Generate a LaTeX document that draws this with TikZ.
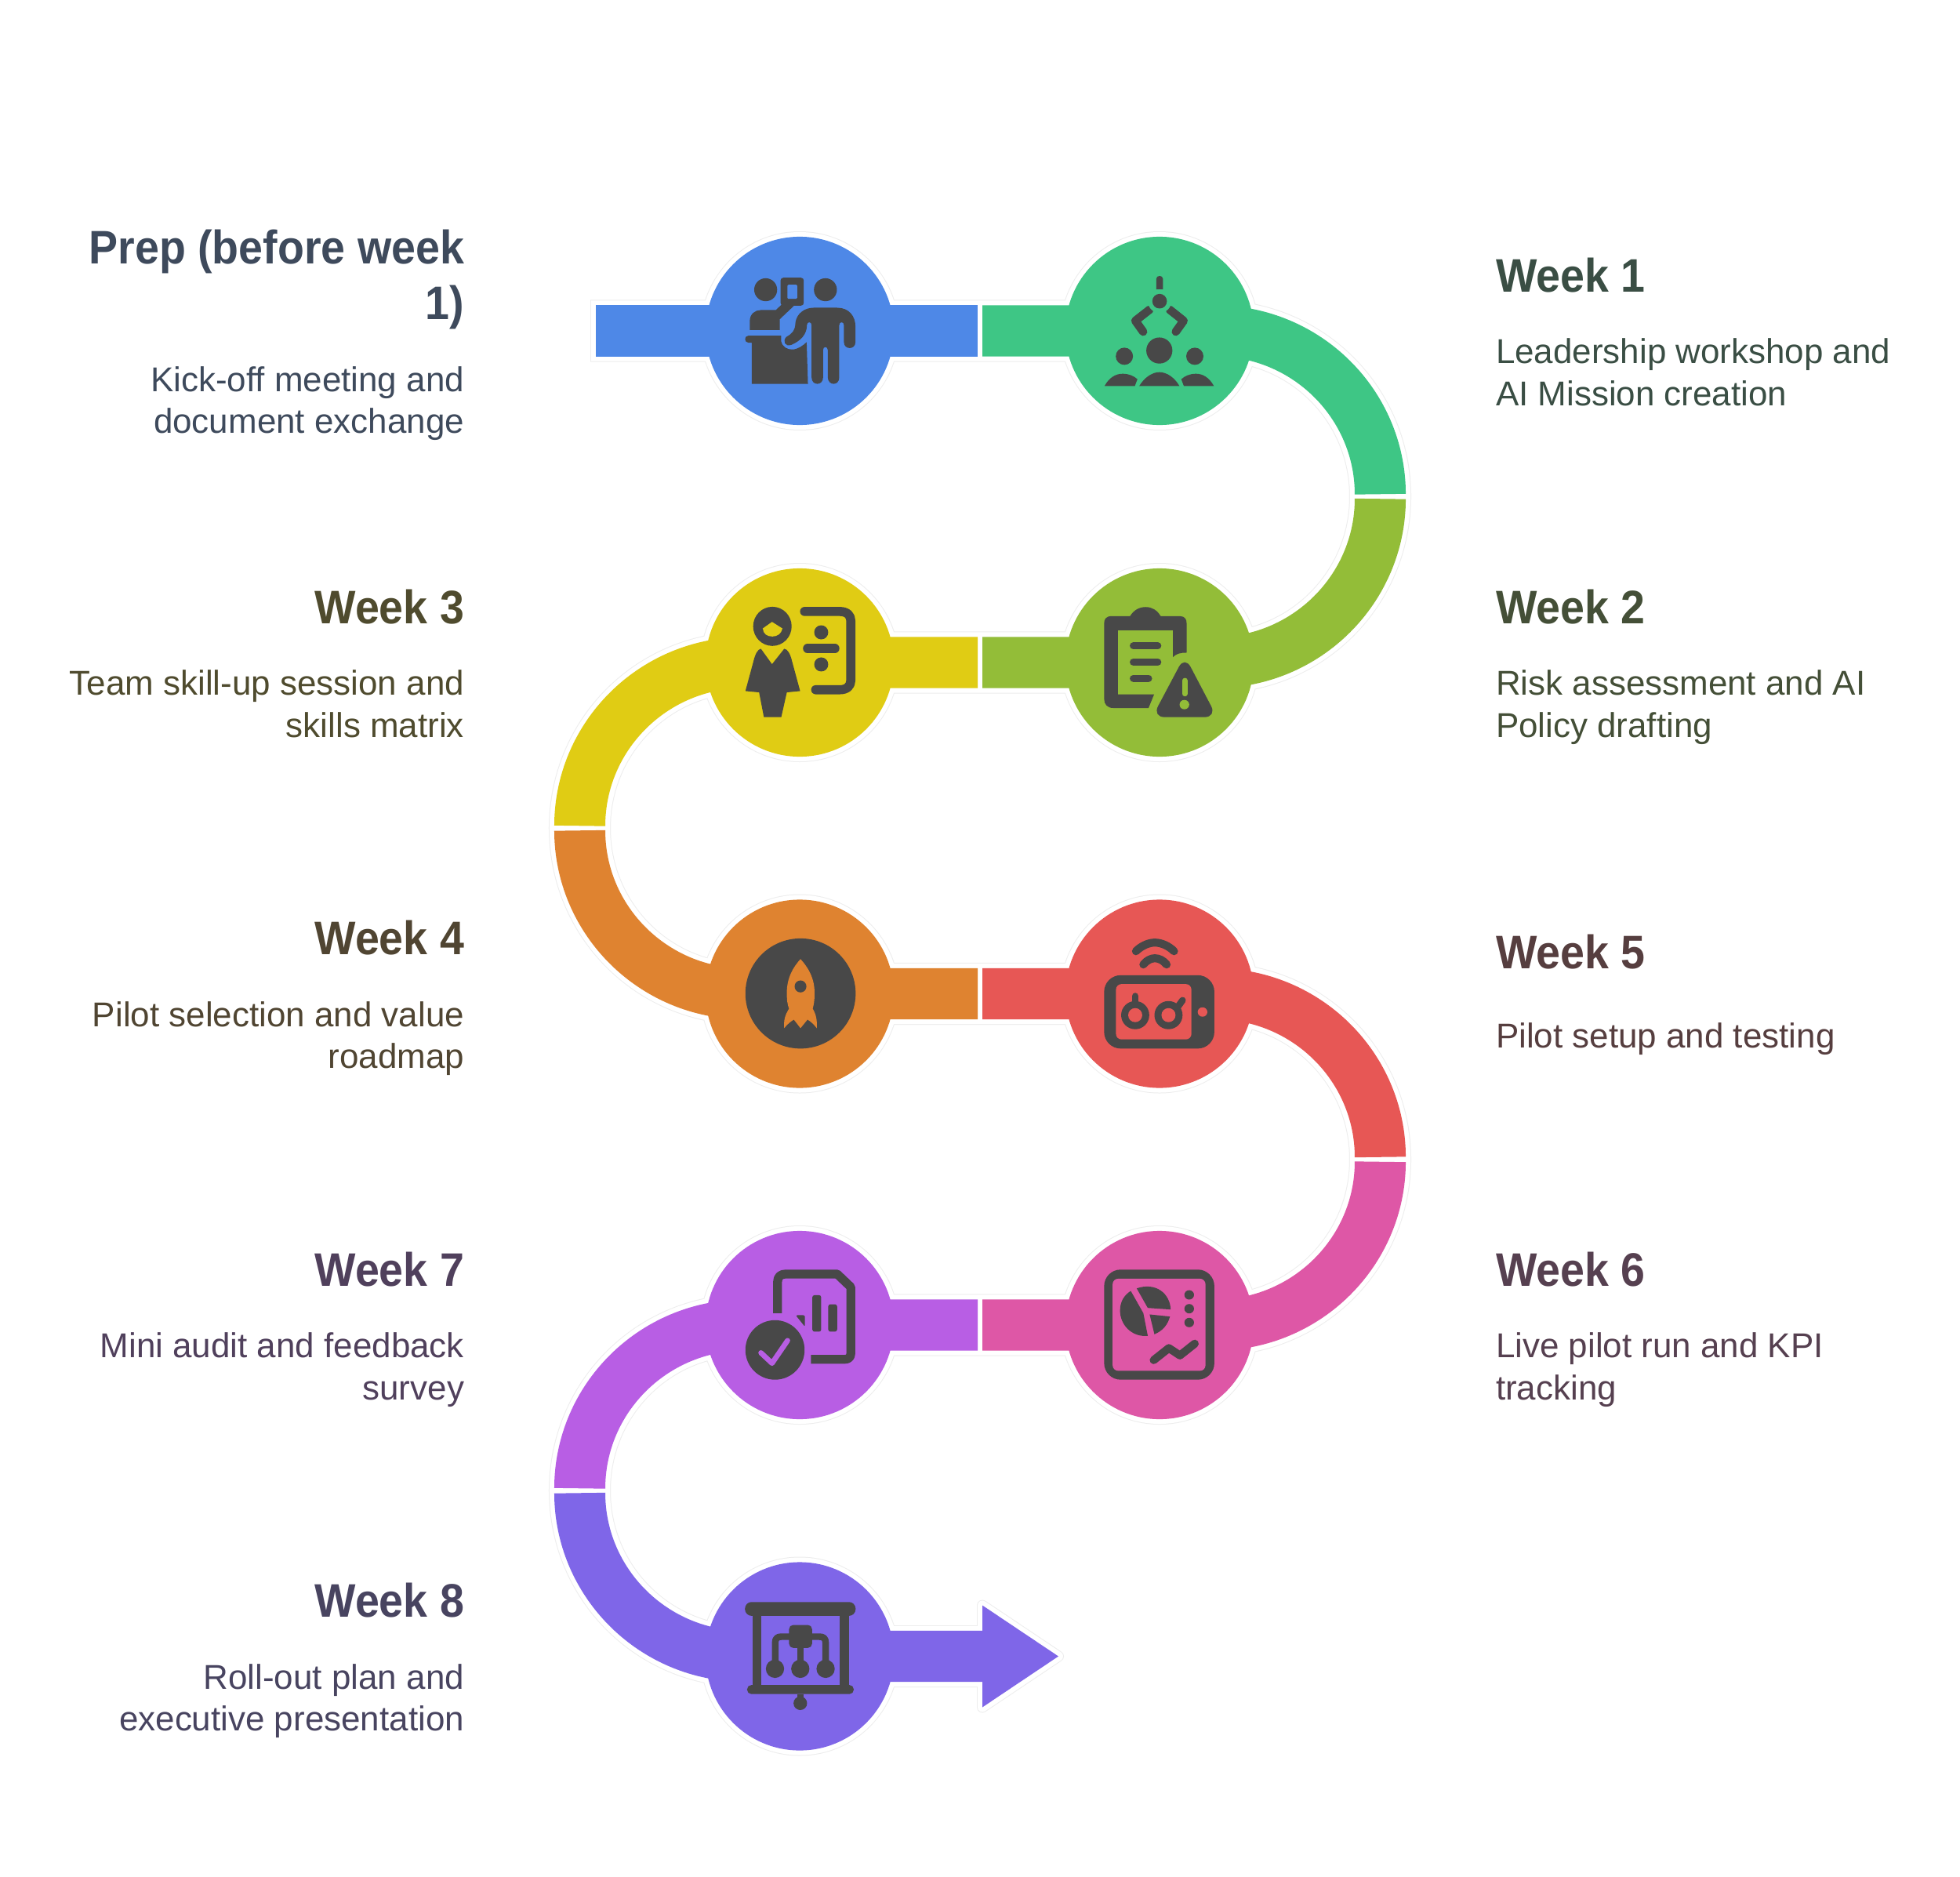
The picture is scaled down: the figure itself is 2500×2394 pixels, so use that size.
\documentclass[tikz,border=0pt]{standalone}
\usepackage{fontspec}
\setmainfont{Liberation Sans}[BoldFeatures={FakeStretch=0.925}]
\definecolor{cA}{HTML}{4E88E7}
\definecolor{cB}{HTML}{3EC685}
\definecolor{cC}{HTML}{93BD38}
\definecolor{cD}{HTML}{E0CC14}
\definecolor{cE}{HTML}{DF8330}
\definecolor{cF}{HTML}{E75755}
\definecolor{cG}{HTML}{DE57A6}
\definecolor{cH}{HTML}{B85EE4}
\definecolor{cI}{HTML}{7F66E8}
\definecolor{icdark}{HTML}{484848}
\definecolor{halo}{HTML}{EDEDED}
\definecolor{tA}{HTML}{3E4A5C}
\definecolor{tB}{HTML}{3A4E44}
\definecolor{tC}{HTML}{444F37}
\definecolor{tD}{HTML}{4F4B2E}
\definecolor{tE}{HTML}{504532}
\definecolor{tF}{HTML}{563E3F}
\definecolor{tG}{HTML}{564050}
\definecolor{tH}{HTML}{50405C}
\definecolor{tI}{HTML}{484460}
\tikzset{
  x=0.01cm,y=-0.01cm,
  band/.style={line width=18.5pt,line cap=butt},
  disc/.style={circle,minimum size=2.4cm,inner sep=0pt,outer sep=0pt},
  ic/.style={fill=icdark},
  il/.style={draw=icdark,line cap=round,line join=round},
  head/.style={inner sep=0pt,outer sep=0pt,font=\fontsize{17.07}{20.2}\selectfont\bfseries},
  body/.style={inner sep=0pt,outer sep=0pt,font=\fontsize{12.5}{15.08}\selectfont},
  lefttext/.style={anchor=base east,align=right},
  righttext/.style={anchor=base west,align=left},
  uni/.style={x=0.003333cm,y=-0.003333cm},
  squish/.style={x=0.004719cm,y=-0.003333cm},
}
% halo layer: #1 extra width in px, #2 colour
\newcommand{\halolayer}[2]{%
  \draw[line width={(65+#1)*0.28453pt},draw=#2,line cap=butt,line join=round]
    ({760-#1/2},422) -- (1550,422) .. controls (1666.7,422) and (1760.5,516) .. (1760.5,633.25)
    .. controls (1760.5,750.5) and (1666.7,845) .. (1550,845) -- (950,845)
    .. controls (833.3,845) and (739.5,939) .. (739.5,1056.25)
    .. controls (739.5,1173.5) and (833.3,1267.5) .. (950,1267.5) -- (1550,1267.5)
    .. controls (1666.7,1267.5) and (1760.5,1361.5) .. (1760.5,1478.75)
    .. controls (1760.5,1596) and (1666.7,1690) .. (1550,1690) -- (950,1690)
    .. controls (833.3,1690) and (739.5,1784) .. (739.5,1901.25)
    .. controls (739.5,2018.5) and (833.3,2112.5) .. (950,2112.5) -- (1254,2112.5);
  \foreach \c in {p1,p2,p3,p4,p5,p6,p7,p8,p9}{\fill[#2] (\c) circle[radius={120+#1/2}];}
  \filldraw[draw=#2,fill=#2,line width={#1*0.28453pt},line join=round]
    (1253,2047.5) -- (1350,2112.5) -- (1253,2177.5) -- cycle;
}
\begin{document}
\begin{tikzpicture}
\useasboundingbox (0,0) rectangle (2500,2394);
\fill[white] (0,0) rectangle (2500,2394);
\coordinate (p1) at (1020,422);
\coordinate (p2) at (1479,422);
\coordinate (p3) at (1479,845);
\coordinate (p4) at (1020,845);
\coordinate (p5) at (1020,1267.5);
\coordinate (p6) at (1479,1267.5);
\coordinate (p7) at (1479,1690);
\coordinate (p8) at (1020,1690);
\coordinate (p9) at (1020,2112.5);
\coordinate (start) at (760,422);
\coordinate (tip) at (1350,2112.5);

\halolayer{14}{halo}
\halolayer{12}{white}

% coloured ribbon
\draw[band,cA] (start) -- (1247,422);
\draw[band,cB] (1253,422) -- (1550,422) .. controls (1666.7,422) and (1760.5,516) .. (1760.5,630.25);
\draw[band,cC] (1760.5,636.25) .. controls (1760.5,750.5) and (1666.7,845) .. (1550,845) -- (1253,845);
\draw[band,cD] (1247,845) -- (950,845) .. controls (833.3,845) and (739.5,939) .. (739.5,1053.25);
\draw[band,cE] (739.5,1059.25) .. controls (739.5,1173.5) and (833.3,1267.5) .. (950,1267.5) -- (1247,1267.5);
\draw[band,cF] (1253,1267.5) -- (1550,1267.5) .. controls (1666.7,1267.5) and (1760.5,1361.5) .. (1760.5,1475.75);
\draw[band,cG] (1760.5,1481.75) .. controls (1760.5,1596) and (1666.7,1690) .. (1550,1690) -- (1253,1690);
\draw[band,cH] (1247,1690) -- (950,1690) .. controls (833.3,1690) and (739.5,1784) .. (739.5,1898.25);
\draw[band,cI] (739.5,1904.25) .. controls (739.5,2018.5) and (833.3,2112.5) .. (950,2112.5) -- (1254,2112.5);
\fill[cI] (1253,2047.5) -- (tip) -- (1253,2177.5) -- cycle;

% discs
\node[disc,fill=cA] (n1) at (p1) {};
\node[disc,fill=cB] (n2) at (p2) {};
\node[disc,fill=cC] (n3) at (p3) {};
\node[disc,fill=cD] (n4) at (p4) {};
\node[disc,fill=cE] (n5) at (p5) {};
\node[disc,fill=cF] (n6) at (p6) {};
\node[disc,fill=cG] (n7) at (p7) {};
\node[disc,fill=cH] (n8) at (p8) {};
\node[disc,fill=cI] (n9) at (p9) {};

% ---- icon: reception (blue)
\begin{scope}[shift={(740,280)},uni]
\fill[ic] (711,269) circle[radius=44];
\fill[ic,rounded corners=1pt] (768,223) rectangle (857,330);
\fill[cA,rounded corners=.4pt] (794,250) rectangle (832,304);
\fill[ic] (650,423) -- (650,390) .. controls (650,362) and (670,347) .. (692,347) -- (750,347) -- (775,323) -- (820,330) -- (765,382) -- (765,423) -- cycle;
\fill[ic] (645,445) -- (770,445) -- (770,465) .. controls (775,490) and (795,498) .. (812,498) .. controls (835,498) and (855,482) .. (868,470) -- (873,630) -- (658,630) -- (658,472) -- (645,472) .. controls (628,472) and (628,445) .. (645,445) -- cycle;
\fill[ic] (940,269) circle[radius=44];
\fill[ic] (790,450) .. controls (810,440) and (825,425) .. (825,395) .. controls (830,360) and (860,338) .. (895,338) -- (985,338) .. controls (1030,338) and (1055,370) .. (1055,410) -- (1055,470) .. controls (1055,500) and (1011,500) .. (1011,470) -- (1011,405) .. controls (1011,390) and (993,390) .. (993,405) -- (993,605) .. controls (993,638) and (950,638) .. (949,605) -- (949,500) .. controls (949,485) and (931,485) .. (931,500) -- (931,605) .. controls (931,638) and (887,638) .. (887,605) -- (887,405) .. controls (887,390) and (869,390) .. (869,405) .. controls (869,440) and (845,465) .. (810,480) .. controls (785,490) and (775,465) .. (790,450) -- cycle;
\end{scope}

% ---- icon: robot claw and people (green)
\begin{scope}[shift={(1320,280)},uni]
\fill[ic] (465,268) -- (465,228) .. controls (465,212) and (491,212) .. (491,228) -- (491,268) -- cycle;
\draw[il,line width=3pt] (440,345) -- (385,388) -- (415,430);
\draw[il,line width=3pt] (516,345) -- (570,388) -- (540,430);
\fill[cB] (478,313) circle[radius=45];
\fill[ic] (478,313) circle[radius=28];
\fill[ic] (477,502) circle[radius=50];
\fill[ic] (343,524) circle[radius=33];
\fill[ic] (613,524) circle[radius=33];
\fill[ic] (400,638) .. controls (420,605) and (450,585) .. (477,585) .. controls (505,585) and (535,605) .. (554,638) -- cycle;
\fill[ic] (267,638) .. controls (285,605) and (310,591) .. (337,591) .. controls (360,591) and (380,600) .. (393,612) -- (383,638) -- cycle;
\fill[ic] (686,638) .. controls (668,605) and (643,591) .. (617,591) .. controls (594,591) and (574,600) .. (561,612) -- (571,638) -- cycle;
\end{scope}

% ---- icon: clipboard with warning (lime)
\begin{scope}[shift={(880,710)},squish]
\fill[ic] (1140,228) -- (1190,228) .. controls (1200,205) and (1215,193) .. (1232,193) .. controls (1250,193) and (1263,205) .. (1273,228) -- (1325,228) .. controls (1338,228) and (1343,240) .. (1343,255) -- (1343,368) .. controls (1325,368) and (1315,372) .. (1306,385) -- (1306,282) -- (1157,282) -- (1157,528) -- (1255,528) -- (1240,580) -- (1145,580) .. controls (1128,580) and (1120,565) .. (1120,545) -- (1120,255) .. controls (1120,240) and (1125,228) .. (1140,228) -- cycle;
\draw[il,line width=2.6pt] (1199,342) -- (1265,342);
\draw[il,line width=2.6pt] (1199,404) -- (1265,404);
\draw[il,line width=2.6pt] (1199,466) -- (1240,466);
\fill[ic,rounded corners=4.5pt] (1338,380) -- (1425,615) -- (1250,615) -- cycle;
\draw[cC,line width=2pt,line cap=round] (1338,475) -- (1338,525);
\fill[cC] (1337,567) circle[x radius=13,y radius=18];
\end{scope}

% ---- icon: presenter and bracket (yellow)
\begin{scope}[shift={(880,710)},squish]
\fill[ic] (223,267) circle[x radius=52,y radius=75];
\fill[cD] (197,275) -- (222,250) -- (250,275) .. controls (248,295) and (236,306) .. (223,306) .. controls (208,306) and (198,295) .. (197,275) -- cycle;
\fill[ic] (150,515) -- (172,400) .. controls (176,375) and (184,353) .. (192,353) -- (222,412) -- (255,353) .. controls (264,353) and (272,375) .. (276,400) -- (298,515) -- (262,520) -- (247,615) -- (200,615) -- (187,520) -- cycle;
\draw[il,line width=3.3pt] (310,210) -- (405,210) .. controls (425,210) and (435,225) .. (435,245) -- (435,475) .. controls (435,495) and (425,510) .. (405,510) -- (340,510);
\fill[ic] (355,290) circle[x radius=19,y radius=27];
\fill[ic] (355,413) circle[x radius=19,y radius=27];
\draw[il,line width=3.3pt] (318,352) -- (392,352);
\end{scope}

% ---- icon: rocket (orange)
\begin{scope}[shift={(880,1130)},squish]
\fill[ic] (299,412) circle[x radius=149,y radius=211];
\fill[cE] (299,280) .. controls (318,310) and (337,350) .. (337,410) .. controls (337,440) and (335,455) .. (332,470) .. controls (342,495) and (344,515) .. (343,545) .. controls (335,530) and (327,520) .. (318,512) -- (299,545) -- (281,512) .. controls (272,520) and (263,530) .. (255,545) .. controls (253,515) and (257,495) .. (268,470) .. controls (264,455) and (262,440) .. (262,410) .. controls (262,350) and (280,310) .. (299,280) -- cycle;
\fill[ic] (299,385) circle[x radius=16,y radius=23];
\end{scope}

% ---- icon: controller and wifi (red)
\begin{scope}[shift={(880,1130)},squish]
\draw[il,line width=2.9pt] (1206,250) .. controls (1220,230) and (1240,217) .. (1257,217) .. controls (1275,217) and (1295,230) .. (1309,250);
\draw[il,line width=2.9pt] (1226,301) .. controls (1235,285) and (1247,277) .. (1257,277) .. controls (1268,277) and (1280,285) .. (1289,301);
\fill[ic,rounded corners=6pt] (1120,342) rectangle (1418,623);
\fill[cF,rounded corners=2pt] (1152,376) rectangle (1356,588);
\draw[draw=icdark,line width=2.4pt,line cap=round] (1204,422) -- (1204,460);
\draw[draw=icdark,line width=2.4pt,line cap=round] (1332,438) -- (1316,470);
\fill[ic] (1204,495) circle[x radius=38,y radius=54];
\fill[cF] (1204,495) circle[x radius=19,y radius=27];
\fill[ic] (1294,495) circle[x radius=38,y radius=54];
\fill[cF] (1294,495) circle[x radius=19,y radius=27];
\fill[cF] (1386,483) circle[x radius=13,y radius=18];
\end{scope}

% ---- icon: audit document (purple)
\begin{scope}[shift={(880,1560)},squish]
\draw[draw=icdark,line width=3.2pt,line join=round] (237,345) -- (237,225) .. controls (237,205) and (245,195) .. (260,195) -- (398,195) -- (435,245) -- (435,500) .. controls (435,515) and (428,522) .. (418,522) -- (327,522);
\fill[ic,rounded corners=.8pt] (331,276) rectangle (355,416);
\fill[ic,rounded corners=.8pt] (374,311) rectangle (398,416);
\fill[ic,rounded corners=.6pt] (286,353) -- (311,353) -- (311,397) -- cycle;
\fill[ic] (230,486) circle[x radius=80,y radius=114];
\draw[draw=cH,line width=1.9pt,line cap=round,line join=round] (192,497) -- (222,537) -- (264,450);
\end{scope}

% ---- icon: dashboard (pink)
\begin{scope}[shift={(880,1560)},squish]
\fill[ic,rounded corners=6pt] (1120,178) rectangle (1418,600);
\fill[cG,rounded corners=2pt] (1143,213) rectangle (1394,566);
\fill[ic] (1192,260) -- (1226,345) -- (1238,432) .. controls (1195,438) and (1163,390) .. (1163,335) .. controls (1163,300) and (1175,275) .. (1192,260) -- cycle;
\fill[ic] (1208,250) .. controls (1260,225) and (1298,270) .. (1300,331) -- (1238,325) -- cycle;
\fill[ic] (1243,350) -- (1298,358) .. controls (1292,390) and (1278,413) .. (1256,426) -- cycle;
\fill[ic] (1350,275) circle[x radius=13,y radius=18];
\fill[ic] (1350,328) circle[x radius=13,y radius=18];
\fill[ic] (1350,381) circle[x radius=13,y radius=18];
\draw[il,line width=2.9pt] (1254,525) -- (1295,479) -- (1325,507) -- (1365,462);
\end{scope}

% ---- icon: presentation board (indigo)
\begin{scope}[shift={(880,1980)},uni]
\fill[ic,rounded corners=2.4pt] (211,190) rectangle (635,243);
\fill[ic] (239,243) rectangle (273,510);
\fill[ic] (573,243) rectangle (609,510);
\fill[ic,rounded corners=1.6pt] (219,508) rectangle (628,543);
\draw[draw=icdark,line width=2.4pt] (423,543) -- (423,565);
\fill[ic] (423,578) circle[radius=26];
\draw[draw=icdark,line width=2.4pt,line join=round] (327,425) -- (327,345) .. controls (327,330) and (335,323) .. (350,323) -- (497,323) .. controls (512,323) and (520,330) .. (520,345) -- (520,425);
\draw[draw=icdark,line width=2.4pt] (423,360) -- (423,425);
\fill[ic,rounded corners=1.5pt] (380,278) rectangle (468,366);
\fill[ic] (326,446) circle[radius=35];
\fill[ic] (423,446) circle[radius=35];
\fill[ic] (520,446) circle[radius=35];
\end{scope}

% ---- texts (multi-line nodes are anchored on their last baseline)
\node[head,lefttext,text=tA] (tp) at (592,407.7) {Prep (before week\\1)};
\node[body,lefttext,text=tA] (bp) at (592,552.7) {Kick-off meeting and\\document exchange};
\node[head,righttext,text=tB] (t1) at (1908,372.3) {Week 1};
\node[body,righttext,text=tB] (b1) at (1908,517) {Leadership workshop and\\AI Mission creation};
\node[head,righttext,text=tC] (t2) at (1908,795) {Week 2};
\node[body,righttext,text=tC] (b2) at (1908,940) {Risk assessment and AI\\Policy drafting};
\node[head,lefttext,text=tD] (t3) at (592,795) {Week 3};
\node[body,lefttext,text=tD] (b3) at (592,940) {Team skill-up session and\\skills matrix};
\node[head,lefttext,text=tE] (t4) at (592,1217.5) {Week 4};
\node[body,lefttext,text=tE] (b4) at (592,1362.5) {Pilot selection and value\\roadmap};
\node[head,righttext,text=tF] (t5) at (1908,1235) {Week 5};
\node[body,righttext,text=tF] (b5) at (1908,1336) {Pilot setup and testing};
\node[head,righttext,text=tG] (t6) at (1908,1640) {Week 6};
\node[body,righttext,text=tG] (b6) at (1908,1785) {Live pilot run and KPI\\tracking};
\node[head,lefttext,text=tH] (t7) at (592,1640) {Week 7};
\node[body,lefttext,text=tH] (b7) at (592,1785) {Mini audit and feedback\\survey};
\node[head,lefttext,text=tI] (t8) at (592,2062.5) {Week 8};
\node[body,lefttext,text=tI] (b8) at (592,2207.5) {Roll-out plan and\\executive presentation};
\end{tikzpicture}
\end{document}
